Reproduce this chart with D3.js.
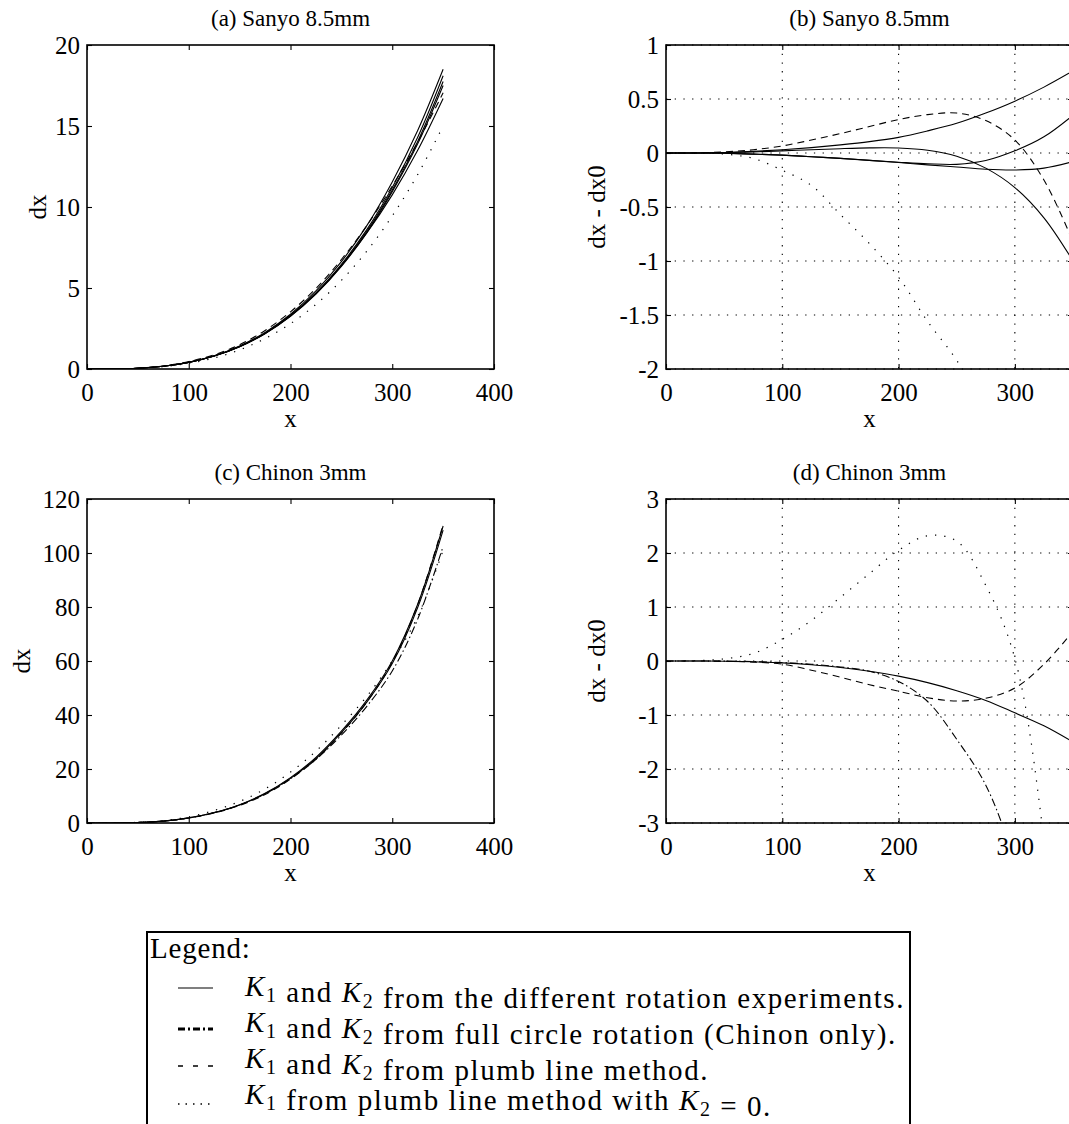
<!DOCTYPE html>
<html>
<head>
<meta charset="utf-8">
<title>Distortion curves</title>
<style>
  body { margin: 0; background: #fff; }
  svg { display: block; background: #fff; }
</style>
</head>
<body>
<div id="container"></div>
<script src="https://cdn.jsdelivr.net/npm/d3@7"></script>
<script>

var xVals = [0, 25, 50, 75, 100, 125, 150, 175, 200, 225, 250, 275, 300, 325, 350];

// (a) Sanyo 8.5mm, dx
var aSolid1 = [0, 0.006, 0.05, 0.17, 0.42, 0.82, 1.42, 2.26, 3.38, 4.82, 6.63, 8.85, 11.55, 14.72, 18.5];
var aSolid2 = [0, 0.006, 0.05, 0.17, 0.41, 0.8, 1.39, 2.21, 3.3, 4.7, 6.46, 8.6, 11.2, 14.3, 18.1];
var aSolid3 = [0, 0.006, 0.05, 0.17, 0.41, 0.8, 1.38, 2.19, 3.27, 4.65, 6.38, 8.5, 11.05, 14.05, 17.75];
var aSolid4 = [0, 0.006, 0.05, 0.17, 0.41, 0.8, 1.37, 2.18, 3.25, 4.62, 6.33, 8.42, 10.95, 13.9, 17.5];
var aSolid5 = [0, 0.006, 0.05, 0.17, 0.41, 0.8, 1.39, 2.21, 3.3, 4.68, 6.38, 8.4, 10.75, 13.5, 16.7];
var aDashed = [0, 0.006, 0.055, 0.19, 0.46, 0.88, 1.5, 2.38, 3.53, 4.97, 6.76, 8.85, 11.3, 14.0, 17.05];
var aDotted = [0, 0.005, 0.044, 0.148, 0.35, 0.68, 1.18, 1.88, 2.8, 3.99, 5.47, 7.28, 9.45, 12.0, 15.0];

// (b) Sanyo 8.5mm, dx - dx0
var bSolid1 = [0, 0, 0.005, 0.015, 0.03, 0.05, 0.075, 0.105, 0.145, 0.205, 0.275, 0.37, 0.48, 0.61, 0.76];
var bSolid2 = [0, 0, -0.003, -0.01, -0.02, -0.035, -0.05, -0.068, -0.085, -0.1, -0.105, -0.07, 0.02, 0.15, 0.35];
var bSolid3 = [0, 0, -0.003, -0.01, -0.02, -0.035, -0.05, -0.068, -0.088, -0.11, -0.13, -0.15, -0.157, -0.14, -0.08];
var bSolid4 = [0, 0, 0.003, 0.01, 0.02, 0.03, 0.04, 0.047, 0.046, 0.025, -0.03, -0.14, -0.32, -0.6, -1.0];
var bDashed = [0, 0.001, 0.01, 0.03, 0.065, 0.12, 0.18, 0.245, 0.31, 0.355, 0.37, 0.3, 0.12, -0.25, -0.82];
var bDotted = [0, -0.001, -0.01, -0.05, -0.16, -0.3, -0.57, -0.84, -1.15, -1.56, -1.92, -2.4, -2.9, -3.5, -4.2];

// (c) Chinon 3mm, dx
var cSolid1 = [0, 0.02, 0.2, 0.7, 1.9, 3.9, 6.8, 11.0, 16.8, 24.3, 34.0, 45.5, 60.0, 81.0, 110.0];
var cSolid2 = [0, 0.02, 0.2, 0.69, 1.87, 3.83, 6.68, 10.81, 16.52, 23.9, 33.45, 44.77, 59.04, 79.8, 108.5];
var cDashDot = [0, 0.02, 0.2, 0.69, 1.87, 3.84, 6.69, 10.81, 16.42, 23.55, 32.55, 43.2, 56.3, 75.5, 102.5];
var cDashed = [0, 0.02, 0.2, 0.68, 1.84, 3.73, 6.5, 10.56, 16.24, 23.62, 33.26, 44.81, 59.5, 80.94, 110.55];
var cDotted = [0, 0.025, 0.24, 0.84, 2.3, 4.65, 7.98, 12.62, 18.85, 26.62, 36.22, 46.9, 60.05, 76.5, 101.0];

// (d) Chinon 3mm, dx - dx0
var dSolid = [0, 0, -0.005, -0.015, -0.035, -0.07, -0.12, -0.19, -0.28, -0.4, -0.55, -0.73, -0.96, -1.2, -1.5];
var dDashed = [0, 0, -0.005, -0.02, -0.06, -0.17, -0.3, -0.44, -0.56, -0.68, -0.74, -0.69, -0.5, -0.06, 0.55];
var dDashDot = [0, 0, -0.003, -0.01, -0.03, -0.06, -0.11, -0.19, -0.38, -0.75, -1.45, -2.3, -3.7, -5.5, -8.0];
var dDotted = [0, 0.005, 0.04, 0.14, 0.4, 0.75, 1.18, 1.62, 2.05, 2.32, 2.22, 1.4, 0.05, -3.3, -9.0];

// tick labels
var yTicksA = [0, 5, 10, 15, 20];
var yTicksB = [-2, -1.5, -1, -0.5, 0, 0.5, 1];
var yTicksC = [0, 20, 40, 60, 80, 100, 120];
var yTicksD = [-3, -2, -1, 0, 1, 2, 3];
var xTicksWide = [0, 100, 200, 300, 400];
var xTicksNarrow = [0, 100, 200, 300];

var legendRows = [
  ["solid", [["K", "1"], " and ", ["K", "2"], " from the different rotation experiments."]],
  ["dashdot", [["K", "1"], " and ", ["K", "2"], " from full circle rotation (Chinon only)."]],
  ["dashed", [["K", "1"], " and ", ["K", "2"], " from plumb line method."]],
  ["dotted", [["K", "1"], " from plumb line method with ", ["K", "2"], " = 0."]]
];

var SERIF = '"Liberation Serif", "Times New Roman", serif';

// line styles
var styles = {
  solid:   { dash: null, width: 1.1 },
  dashed:  { dash: "7,5", width: 1.1 },
  dotted:  { dash: "1.3,8", width: 1.2 },
  dashdot: { dash: "8,3,1.5,3", width: 1.1 }
};

var W = 1069, H = 1124;
var pw = 407, ph = 324;

var svg = d3.select("#container")
  .append("svg")
  .attr("width", W)
  .attr("height", H);

var panels = [
  { title: "(a) Sanyo 8.5mm", left: 87, top: 45, xMax: 400, xTicks: xTicksWide,
    yDomain: [0, 20], yTicks: yTicksA, grid: false, ylabel: "dx", ylabelX: 46,
    series: [[aSolid1, "solid"], [aSolid2, "solid"], [aSolid3, "solid"], [aSolid4, "solid"],
             [aSolid5, "solid"], [aDashed, "dashed"], [aDotted, "dotted"]] },
  { title: "(b) Sanyo 8.5mm", left: 666, top: 45, xMax: 350, xTicks: xTicksNarrow,
    yDomain: [-2, 1], yTicks: yTicksB, grid: true, ylabel: "dx - dx0", ylabelX: 605,
    series: [[bSolid1, "solid"], [bSolid2, "solid"], [bSolid3, "solid"], [bSolid4, "solid"],
             [bDashed, "dashed"], [bDotted, "dotted"]] },
  { title: "(c) Chinon 3mm", left: 87, top: 499, xMax: 400, xTicks: xTicksWide,
    yDomain: [0, 120], yTicks: yTicksC, grid: false, ylabel: "dx", ylabelX: 30,
    series: [[cSolid1, "solid"], [cSolid2, "solid"], [cDashDot, "dashdot"],
             [cDashed, "dashed"], [cDotted, "dotted"]] },
  { title: "(d) Chinon 3mm", left: 666, top: 499, xMax: 350, xTicks: xTicksNarrow,
    yDomain: [-3, 3], yTicks: yTicksD, grid: true, ylabel: "dx - dx0", ylabelX: 605,
    series: [[dSolid, "solid"], [dDashed, "dashed"], [dDashDot, "dashdot"], [dDotted, "dotted"]] }
];

panels.forEach(function (p, i) {
  var g = svg.append("g").attr("transform", "translate(" + p.left + "," + p.top + ")");

  var x = d3.scaleLinear().domain([0, p.xMax]).range([0, pw]);
  var y = d3.scaleLinear().domain(p.yDomain).range([ph, 0]);

  // dotted grid
  if (p.grid) {
    g.append("g").selectAll("line")
      .data(p.xTicks.filter(function (t) { return t > 0; }))
      .enter().append("line")
      .attr("x1", d => x(d)).attr("x2", d => x(d))
      .attr("y1", 0).attr("y2", ph)
      .attr("stroke", "#000").attr("stroke-width", 1.1)
      .attr("stroke-dasharray", "1.3,7.4");
    g.append("g").selectAll("line")
      .data(p.yTicks)
      .enter().append("line")
      .attr("x1", 0).attr("x2", pw)
      .attr("y1", d => y(d)).attr("y2", d => y(d))
      .attr("stroke", "#000").attr("stroke-width", 1.1)
      .attr("stroke-dasharray", "1.3,7.4");
  }

  // curves, clipped to the plot area
  var clipId = "clip" + i;
  g.append("clipPath").attr("id", clipId)
    .append("rect").attr("width", pw).attr("height", ph);

  var line = d3.line()
    .x(function (d) { return x(d[0]); })
    .y(function (d) { return y(d[1]); })
    .curve(d3.curveCatmullRom.alpha(0.5));

  var plot = g.append("g").attr("clip-path", "url(#" + clipId + ")");
  p.series.forEach(function (s) {
    var st = styles[s[1]];
    var pts = xVals.map(function (xv, k) { return [xv, s[0][k]]; });
    plot.append("path")
      .datum(pts)
      .attr("d", line)
      .attr("fill", "none")
      .attr("stroke", "#000")
      .attr("stroke-width", st.width)
      .attr("stroke-dasharray", st.dash);
  });

  // axes, ticks pointing inwards on all four sides
  var bottom = g.append("g").attr("transform", "translate(0," + ph + ")")
    .call(d3.axisBottom(x).tickValues(p.xTicks).tickSizeInner(-5).tickSizeOuter(0).tickPadding(14)
      .tickFormat(d3.format("d")));
  var top = g.append("g")
    .call(d3.axisTop(x).tickValues(p.xTicks).tickSizeInner(-5).tickSizeOuter(0).tickFormat(""));
  var left = g.append("g")
    .call(d3.axisLeft(y).tickValues(p.yTicks).tickSizeInner(-5).tickSizeOuter(0).tickPadding(7)
      .tickFormat(function (d) { return String(d); }));
  var right = g.append("g").attr("transform", "translate(" + pw + ",0)")
    .call(d3.axisRight(y).tickValues(p.yTicks).tickSizeInner(-5).tickSizeOuter(0).tickFormat(""));

  [bottom, top, left, right].forEach(function (a) {
    a.select(".domain").remove();
    a.selectAll(".tick line").attr("stroke", "#000").attr("stroke-width", 1.1);
    a.selectAll("text")
      .style("font-family", SERIF).style("font-size", "25px").style("fill", "#000");
  });

  // frame
  g.append("rect")
    .attr("width", pw).attr("height", ph)
    .attr("fill", "none").attr("stroke", "#000").attr("stroke-width", 1.6);

  // title and axis labels
  svg.append("text")
    .attr("x", p.left + pw / 2).attr("y", p.top - 19)
    .attr("text-anchor", "middle")
    .style("font-family", SERIF).style("font-size", "23px")
    .text(p.title);
  svg.append("text")
    .attr("x", p.left + pw / 2).attr("y", p.top + ph + 58)
    .attr("text-anchor", "middle")
    .style("font-family", SERIF).style("font-size", "25px")
    .text("x");
  svg.append("text")
    .attr("transform", "translate(" + p.ylabelX + "," + (p.top + ph / 2) + ") rotate(-90)")
    .attr("text-anchor", "middle")
    .style("font-family", SERIF).style("font-size", "25px")
    .text(p.ylabel);
});

// legend box (runs off the bottom of the picture)
var lg = svg.append("g");
lg.append("rect")
  .attr("x", 147).attr("y", 932).attr("width", 763).attr("height", 240)
  .attr("fill", "none").attr("stroke", "#000").attr("stroke-width", 2);

lg.append("text").attr("x", 150).attr("y", 958)
  .style("font-family", SERIF).style("font-size", "29px").style("letter-spacing", "0.8px")
  .text("Legend:");

var rowY = [996, 1032, 1068, 1104];
var symY = [988, 1029, 1066, 1104];
var textX = 245, textEnd = 905;

var rows = [];
legendRows.forEach(function (r, i) {
  var sym = lg.append("line")
    .attr("x1", 178).attr("x2", 213)
    .attr("y1", symY[i]).attr("y2", symY[i])
    .attr("stroke", "#000");
  if (r[0] === "solid") sym.attr("stroke-width", 1.2);
  if (r[0] === "dashdot") sym.attr("stroke-width", 3).attr("stroke-dasharray", "7,3,2,3");
  if (r[0] === "dashed") sym.attr("stroke-width", 1.3).attr("stroke-dasharray", "5,10");
  if (r[0] === "dotted") sym.attr("stroke-width", 1.5).attr("stroke-dasharray", "1.5,6");

  var t = lg.append("text").attr("x", textX).attr("y", rowY[i])
    .style("font-family", SERIF).style("font-size", "29px");
  r[1].forEach(function (part) {
    if (Array.isArray(part)) {
      t.append("tspan").style("font-style", "italic").text(part[0]);
      t.append("tspan").attr("dy", 6).style("font-size", "20px").text(part[1]);
      t.append("tspan").attr("dy", -6).text("");
    } else {
      t.append("tspan").text(part);
    }
  });
  rows.push(t);
});

// widen the first row to the measured span and use the same spacing for all rows
var natural = rows[0].node().getComputedTextLength();
var nChars = rows[0].text().length;
var ls = Math.max(0, (textEnd - textX - natural) / nChars);
rows.forEach(function (t) { t.style("letter-spacing", ls + "px"); });

</script>
</body>
</html>
